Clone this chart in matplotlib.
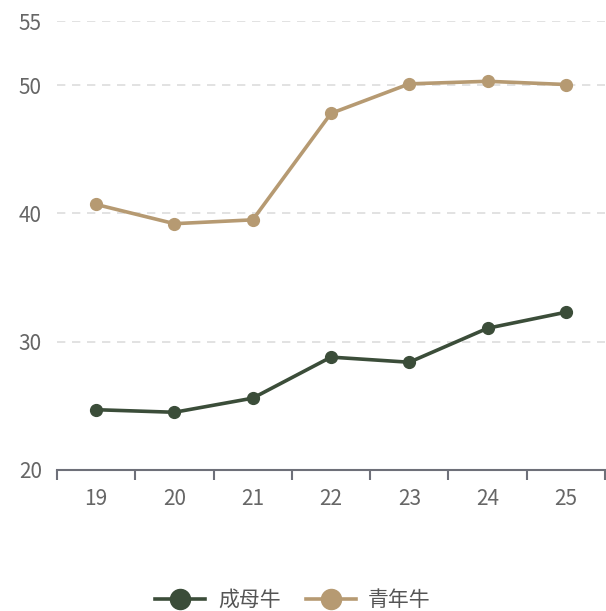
import matplotlib.pyplot as plt
import numpy as np

plt.rcParams['font.family'] = ['Noto Sans CJK SC', 'DejaVu Sans']
plt.rcParams['font.weight'] = 'light'

# data
years = ['19', '20', '21', '22', '23', '24', '25']
adult_cow = [24.7, 24.5, 25.6, 28.8, 28.4, 31.05, 32.3]
young_cow = [40.7, 39.2, 39.5, 47.8, 50.1, 50.3, 50.05]
y_ticks = [20, 30, 40, 50, 55]

green = '#3b4d39'
tan = '#b69a72'
axis_grey = '#6e7079'
text_grey = '#666666'

fig = plt.figure(figsize=(6.06, 6.11), dpi=100)
ax = fig.add_axes([57 / 606, 1 - 470 / 611, 548 / 606, 449 / 611])

x = np.arange(len(years))
ax.plot(x, adult_cow, color=green, lw=2.6, marker='o', ms=8.5, label='成母牛', zorder=3)
ax.plot(x, young_cow, color=tan, lw=2.6, marker='o', ms=8.5, label='青年牛', zorder=3)

ax.set_xlim(-0.5, len(years) - 0.5)
ax.set_ylim(20, 55)

# category axis: labels centred, ticks on the boundaries
ax.set_xticks(x)
ax.set_xticklabels(years)
ax.set_xticks(np.arange(-0.5, len(years)), minor=True)
ax.tick_params(axis='x', which='major', length=0, pad=13, labelsize=15, labelcolor=text_grey)
ax.tick_params(axis='x', which='minor', length=7, width=1.5, color=axis_grey, direction='out')

ax.set_yticks(y_ticks)
ax.tick_params(axis='y', length=0, pad=11, labelsize=15, labelcolor=text_grey)

for v in y_ticks[1:]:
    ax.axhline(v, color='#dddddd', lw=1.2, ls=(0, (5, 4)), zorder=1)

for side in ['top', 'right', 'left']:
    ax.spines[side].set_visible(False)
ax.spines['bottom'].set_color(axis_grey)
ax.spines['bottom'].set_linewidth(1.5)

fig.legend(loc='center', bbox_to_anchor=(293 / 606, 1 - 600 / 611), ncol=2, frameon=False,
           fontsize=15, markerscale=1.7, handlelength=2.4, handletextpad=0.6,
           columnspacing=1.2, labelcolor='#555555')

fig.savefig('out.png', dpi=100)
